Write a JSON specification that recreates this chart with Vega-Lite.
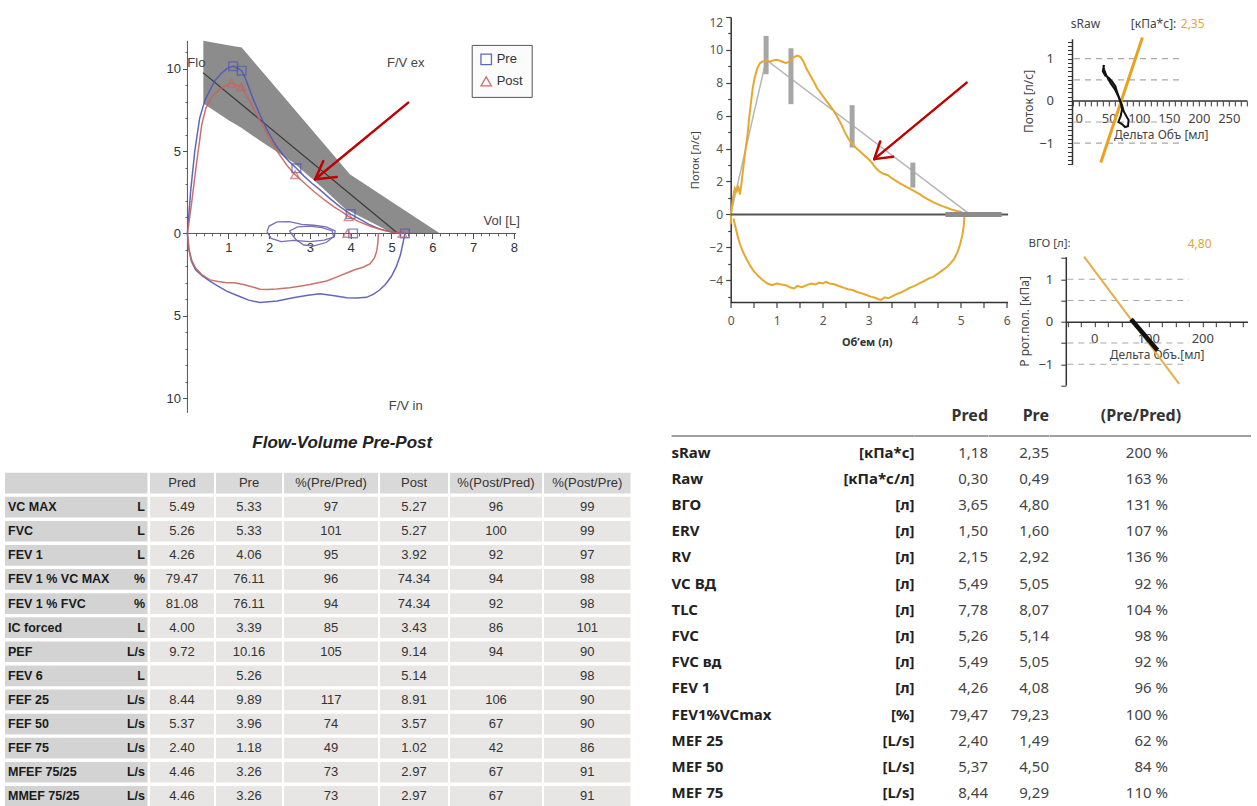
{
  "$schema": "https://vega.github.io/schema/vega-lite/v6.json",
  "background": "white",
  "padding": {"left": 5, "top": 16, "right": 0, "bottom": 0},
  "config": {"view": {"stroke": null}, "axis": {"grid": false}},
  "datasets": {
    "band": [
      {"v": 0.39, "hi": 11.7, "lo": 7.9}, {"v": 1.0, "hi": 11.44, "lo": 6.9}, {"v": 1.33, "hi": 11.3, "lo": 6.4},
      {"v": 1.8, "hi": 9.93, "lo": 5.6}, {"v": 2.6, "hi": 7.61, "lo": 4.3}, {"v": 3.3, "hi": 5.57, "lo": 2.8},
      {"v": 3.86, "hi": 3.95, "lo": 1.5}, {"v": 3.98, "hi": 3.6, "lo": 1.35}, {"v": 5.04, "hi": 1.87, "lo": 0},
      {"v": 6.19, "hi": 0, "lo": 0}
    ],
    "lPred": [{"v": 0.38, "f": 9.77}, {"v": 5.16, "f": 0}],
    "flowCurves": [
      {"series": "Pre", "path": "pe", "v": 0, "f": 0}, {"series": "Pre", "path": "pe", "v": 0.08, "f": 2.6},
      {"series": "Pre", "path": "pe", "v": 0.18, "f": 5.0}, {"series": "Pre", "path": "pe", "v": 0.3, "f": 7.0},
      {"series": "Pre", "path": "pe", "v": 0.43, "f": 8.1}, {"series": "Pre", "path": "pe", "v": 0.55, "f": 8.7},
      {"series": "Pre", "path": "pe", "v": 0.68, "f": 9.3}, {"series": "Pre", "path": "pe", "v": 0.82, "f": 9.7},
      {"series": "Pre", "path": "pe", "v": 0.96, "f": 10.0}, {"series": "Pre", "path": "pe", "v": 1.06, "f": 10.12},
      {"series": "Pre", "path": "pe", "v": 1.12, "f": 10.16}, {"series": "Pre", "path": "pe", "v": 1.2, "f": 10.08},
      {"series": "Pre", "path": "pe", "v": 1.27, "f": 9.98}, {"series": "Pre", "path": "pe", "v": 1.33, "f": 9.89},
      {"series": "Pre", "path": "pe", "v": 1.4, "f": 9.55}, {"series": "Pre", "path": "pe", "v": 1.5, "f": 8.9},
      {"series": "Pre", "path": "pe", "v": 1.62, "f": 8.1}, {"series": "Pre", "path": "pe", "v": 1.78, "f": 7.2},
      {"series": "Pre", "path": "pe", "v": 1.95, "f": 6.3}, {"series": "Pre", "path": "pe", "v": 2.15, "f": 5.4},
      {"series": "Pre", "path": "pe", "v": 2.35, "f": 4.75}, {"series": "Pre", "path": "pe", "v": 2.5, "f": 4.35},
      {"series": "Pre", "path": "pe", "v": 2.67, "f": 3.96}, {"series": "Pre", "path": "pe", "v": 2.85, "f": 3.5},
      {"series": "Pre", "path": "pe", "v": 3.05, "f": 3.05}, {"series": "Pre", "path": "pe", "v": 3.25, "f": 2.65},
      {"series": "Pre", "path": "pe", "v": 3.5, "f": 2.1}, {"series": "Pre", "path": "pe", "v": 3.75, "f": 1.6},
      {"series": "Pre", "path": "pe", "v": 4.0, "f": 1.18}, {"series": "Pre", "path": "pe", "v": 4.2, "f": 0.9},
      {"series": "Pre", "path": "pe", "v": 4.45, "f": 0.55}, {"series": "Pre", "path": "pe", "v": 4.7, "f": 0.28},
      {"series": "Pre", "path": "pe", "v": 4.95, "f": 0.12}, {"series": "Pre", "path": "pe", "v": 5.15, "f": 0.04},
      {"series": "Pre", "path": "pe", "v": 5.33, "f": 0},
      {"series": "Pre", "path": "pi", "v": 5.33, "f": 0}, {"series": "Pre", "path": "pi", "v": 5.28, "f": -0.6},
      {"series": "Pre", "path": "pi", "v": 5.22, "f": -1.3}, {"series": "Pre", "path": "pi", "v": 5.12, "f": -2.0},
      {"series": "Pre", "path": "pi", "v": 5.0, "f": -2.6}, {"series": "Pre", "path": "pi", "v": 4.85, "f": -3.1},
      {"series": "Pre", "path": "pi", "v": 4.7, "f": -3.45}, {"series": "Pre", "path": "pi", "v": 4.55, "f": -3.7},
      {"series": "Pre", "path": "pi", "v": 4.39, "f": -3.88}, {"series": "Pre", "path": "pi", "v": 4.15, "f": -3.92},
      {"series": "Pre", "path": "pi", "v": 3.9, "f": -3.9}, {"series": "Pre", "path": "pi", "v": 3.6, "f": -3.78},
      {"series": "Pre", "path": "pi", "v": 3.25, "f": -3.66}, {"series": "Pre", "path": "pi", "v": 2.95, "f": -3.75},
      {"series": "Pre", "path": "pi", "v": 2.59, "f": -3.9}, {"series": "Pre", "path": "pi", "v": 2.2, "f": -4.1},
      {"series": "Pre", "path": "pi", "v": 1.78, "f": -4.2}, {"series": "Pre", "path": "pi", "v": 1.5, "f": -4.05},
      {"series": "Pre", "path": "pi", "v": 1.25, "f": -3.8}, {"series": "Pre", "path": "pi", "v": 0.96, "f": -3.5},
      {"series": "Pre", "path": "pi", "v": 0.75, "f": -3.2}, {"series": "Pre", "path": "pi", "v": 0.55, "f": -2.9},
      {"series": "Pre", "path": "pi", "v": 0.35, "f": -2.55}, {"series": "Pre", "path": "pi", "v": 0.2, "f": -2.2},
      {"series": "Pre", "path": "pi", "v": 0.1, "f": -1.7}, {"series": "Pre", "path": "pi", "v": 0.04, "f": -1.0},
      {"series": "Pre", "path": "pi", "v": 0, "f": 0},
      {"series": "Post", "path": "qe", "v": 0, "f": 0}, {"series": "Post", "path": "qe", "v": 0.1, "f": 1.8},
      {"series": "Post", "path": "qe", "v": 0.22, "f": 4.2}, {"series": "Post", "path": "qe", "v": 0.35, "f": 6.6},
      {"series": "Post", "path": "qe", "v": 0.45, "f": 7.6}, {"series": "Post", "path": "qe", "v": 0.6, "f": 8.3},
      {"series": "Post", "path": "qe", "v": 0.78, "f": 8.75}, {"series": "Post", "path": "qe", "v": 0.95, "f": 9.0},
      {"series": "Post", "path": "qe", "v": 1.08, "f": 9.14}, {"series": "Post", "path": "qe", "v": 1.2, "f": 9.02},
      {"series": "Post", "path": "qe", "v": 1.32, "f": 8.91}, {"series": "Post", "path": "qe", "v": 1.42, "f": 8.5},
      {"series": "Post", "path": "qe", "v": 1.55, "f": 7.9}, {"series": "Post", "path": "qe", "v": 1.7, "f": 7.2},
      {"series": "Post", "path": "qe", "v": 1.88, "f": 6.4}, {"series": "Post", "path": "qe", "v": 2.05, "f": 5.6},
      {"series": "Post", "path": "qe", "v": 2.25, "f": 4.8}, {"series": "Post", "path": "qe", "v": 2.45, "f": 4.1},
      {"series": "Post", "path": "qe", "v": 2.64, "f": 3.57}, {"series": "Post", "path": "qe", "v": 2.85, "f": 3.1},
      {"series": "Post", "path": "qe", "v": 3.1, "f": 2.55}, {"series": "Post", "path": "qe", "v": 3.35, "f": 2.05},
      {"series": "Post", "path": "qe", "v": 3.6, "f": 1.6}, {"series": "Post", "path": "qe", "v": 3.8, "f": 1.3},
      {"series": "Post", "path": "qe", "v": 3.95, "f": 1.02}, {"series": "Post", "path": "qe", "v": 4.2, "f": 0.72},
      {"series": "Post", "path": "qe", "v": 4.5, "f": 0.42}, {"series": "Post", "path": "qe", "v": 4.8, "f": 0.2},
      {"series": "Post", "path": "qe", "v": 5.05, "f": 0.07}, {"series": "Post", "path": "qe", "v": 5.27, "f": 0},
      {"series": "Post", "path": "qi", "v": 4.68, "f": 0}, {"series": "Post", "path": "qi", "v": 4.67, "f": -0.5},
      {"series": "Post", "path": "qi", "v": 4.64, "f": -1.06}, {"series": "Post", "path": "qi", "v": 4.58, "f": -1.5},
      {"series": "Post", "path": "qi", "v": 4.47, "f": -1.85}, {"series": "Post", "path": "qi", "v": 4.3, "f": -2.05},
      {"series": "Post", "path": "qi", "v": 4.1, "f": -2.2}, {"series": "Post", "path": "qi", "v": 3.9, "f": -2.4},
      {"series": "Post", "path": "qi", "v": 3.65, "f": -2.65}, {"series": "Post", "path": "qi", "v": 3.41, "f": -2.89},
      {"series": "Post", "path": "qi", "v": 3.2, "f": -3.0}, {"series": "Post", "path": "qi", "v": 3.0, "f": -3.1},
      {"series": "Post", "path": "qi", "v": 2.75, "f": -3.2}, {"series": "Post", "path": "qi", "v": 2.5, "f": -3.3},
      {"series": "Post", "path": "qi", "v": 2.19, "f": -3.38}, {"series": "Post", "path": "qi", "v": 1.95, "f": -3.4},
      {"series": "Post", "path": "qi", "v": 1.78, "f": -3.39}, {"series": "Post", "path": "qi", "v": 1.6, "f": -3.25},
      {"series": "Post", "path": "qi", "v": 1.37, "f": -3.1}, {"series": "Post", "path": "qi", "v": 1.15, "f": -3.0},
      {"series": "Post", "path": "qi", "v": 0.96, "f": -2.99}, {"series": "Post", "path": "qi", "v": 0.75, "f": -2.92},
      {"series": "Post", "path": "qi", "v": 0.55, "f": -2.82}, {"series": "Post", "path": "qi", "v": 0.35, "f": -2.5},
      {"series": "Post", "path": "qi", "v": 0.2, "f": -2.1}, {"series": "Post", "path": "qi", "v": 0.1, "f": -1.6},
      {"series": "Post", "path": "qi", "v": 0.03, "f": -0.9}, {"series": "Post", "path": "qi", "v": 0, "f": 0}
    ],
    "tidal": [
      {"loop": "a", "v": 1.95, "f": 0.1}, {"loop": "a", "v": 2.0, "f": 0.45}, {"loop": "a", "v": 2.2, "f": 0.7},
      {"loop": "a", "v": 2.5, "f": 0.72}, {"loop": "a", "v": 2.8, "f": 0.55}, {"loop": "a", "v": 3.1, "f": 0.5},
      {"loop": "a", "v": 3.4, "f": 0.4}, {"loop": "a", "v": 3.62, "f": 0.15}, {"loop": "a", "v": 3.6, "f": -0.2},
      {"loop": "a", "v": 3.35, "f": -0.4}, {"loop": "a", "v": 3.0, "f": -0.5}, {"loop": "a", "v": 2.6, "f": -0.42},
      {"loop": "a", "v": 2.3, "f": -0.5}, {"loop": "a", "v": 2.05, "f": -0.3}, {"loop": "a", "v": 1.95, "f": 0.1},
      {"loop": "b", "v": 2.5, "f": 0.15}, {"loop": "b", "v": 2.7, "f": 0.4}, {"loop": "b", "v": 3.0, "f": 0.45},
      {"loop": "b", "v": 3.3, "f": 0.35}, {"loop": "b", "v": 3.55, "f": 0.15}, {"loop": "b", "v": 3.58, "f": -0.2},
      {"loop": "b", "v": 3.4, "f": -0.55}, {"loop": "b", "v": 3.1, "f": -0.75}, {"loop": "b", "v": 2.85, "f": -0.7},
      {"loop": "b", "v": 2.65, "f": -0.35}, {"loop": "b", "v": 2.5, "f": 0.15}
    ],
    "markers": [
      {"series": "Pre", "v": 1.12, "f": 10.16}, {"series": "Pre", "v": 1.33, "f": 9.89}, {"series": "Pre", "v": 2.67, "f": 3.96},
      {"series": "Pre", "v": 4.0, "f": 1.18}, {"series": "Pre", "v": 5.33, "f": 0}, {"series": "Pre", "v": 4.06, "f": 0},
      {"series": "Post", "v": 1.08, "f": 9.14}, {"series": "Post", "v": 1.32, "f": 8.91}, {"series": "Post", "v": 2.64, "f": 3.57},
      {"series": "Post", "v": 3.95, "f": 1.02}, {"series": "Post", "v": 5.27, "f": 0}, {"series": "Post", "v": 3.92, "f": 0}
    ],
    "lText": [
      {"t": "Flo", "v": 0.22, "f": 10.38}, {"t": "F/V ex", "v": 5.35, "f": 10.38},
      {"t": "Vol [L]", "v": 7.7, "f": 0.77}, {"t": "F/V in", "v": 5.35, "f": -10.47}
    ],
    "lArrow": [
      {"x": 5.41, "y": 7.95, "x2": 3.13, "y2": 3.29}, {"x": 3.66, "y": 3.43, "x2": 3.13, "y2": 3.29},
      {"x": 3.33, "y": 4.4, "x2": 3.13, "y2": 3.29}
    ],
    "rPred": [{"v": 0, "f": 0}, {"v": 0.77, "f": 9.4}, {"v": 5.2, "f": 0}],
    "rBars": [
      {"v": 0.77, "lo": 8.52, "hi": 10.85}, {"v": 1.31, "lo": 6.7, "hi": 10.1},
      {"v": 2.64, "lo": 4.06, "hi": 6.64}, {"v": 3.96, "lo": 1.63, "hi": 3.15}
    ],
    "rFlat": [{"v": 4.67, "v2": 5.89, "f": 0}],
    "rArrow": [
      {"x": 5.13, "y": 8.01, "x2": 3.12, "y2": 3.36}, {"x": 3.53, "y": 3.51, "x2": 3.12, "y2": 3.36},
      {"x": 3.25, "y": 4.43, "x2": 3.12, "y2": 3.36}
    ],
    "rCurve": [
      {"v": 0, "f": -0.6}, {"v": 0.02, "f": 0.3}, {"v": 0.05, "f": 1.0}, {"v": 0.09, "f": 1.6}, {"v": 0.13, "f": 1.4},
      {"v": 0.16, "f": 1.75}, {"v": 0.2, "f": 1.2}, {"v": 0.24, "f": 2.0}, {"v": 0.28, "f": 3.0}, {"v": 0.32, "f": 3.9},
      {"v": 0.36, "f": 4.7}, {"v": 0.4, "f": 5.8}, {"v": 0.44, "f": 6.8}, {"v": 0.48, "f": 7.7}, {"v": 0.53, "f": 8.4},
      {"v": 0.58, "f": 8.9}, {"v": 0.64, "f": 9.2}, {"v": 0.7, "f": 9.3}, {"v": 0.78, "f": 9.35}, {"v": 0.85, "f": 9.28},
      {"v": 0.92, "f": 9.36}, {"v": 1.0, "f": 9.4}, {"v": 1.06, "f": 9.36}, {"v": 1.12, "f": 9.28}, {"v": 1.2, "f": 9.2},
      {"v": 1.27, "f": 9.26}, {"v": 1.33, "f": 9.45}, {"v": 1.4, "f": 9.6}, {"v": 1.46, "f": 9.66}, {"v": 1.52, "f": 9.55},
      {"v": 1.58, "f": 9.3}, {"v": 1.64, "f": 8.9}, {"v": 1.7, "f": 8.6}, {"v": 1.76, "f": 8.3}, {"v": 1.82, "f": 8.0},
      {"v": 1.88, "f": 7.65}, {"v": 1.94, "f": 7.45}, {"v": 2.0, "f": 7.2}, {"v": 2.08, "f": 6.9}, {"v": 2.16, "f": 6.6},
      {"v": 2.24, "f": 6.3}, {"v": 2.32, "f": 5.9}, {"v": 2.4, "f": 5.5}, {"v": 2.48, "f": 5.0}, {"v": 2.56, "f": 4.6},
      {"v": 2.64, "f": 4.3}, {"v": 2.72, "f": 4.05}, {"v": 2.8, "f": 3.85}, {"v": 2.9, "f": 3.6}, {"v": 3.0, "f": 3.35},
      {"v": 3.08, "f": 3.1}, {"v": 3.16, "f": 2.8}, {"v": 3.24, "f": 2.6}, {"v": 3.32, "f": 2.47}, {"v": 3.42, "f": 2.38},
      {"v": 3.5, "f": 2.2}, {"v": 3.6, "f": 2.02}, {"v": 3.7, "f": 1.86}, {"v": 3.8, "f": 1.7}, {"v": 3.9, "f": 1.55},
      {"v": 4.0, "f": 1.4}, {"v": 4.1, "f": 1.25}, {"v": 4.2, "f": 1.05}, {"v": 4.3, "f": 0.9}, {"v": 4.4, "f": 0.75},
      {"v": 4.5, "f": 0.62}, {"v": 4.6, "f": 0.5}, {"v": 4.7, "f": 0.4}, {"v": 4.8, "f": 0.3}, {"v": 4.9, "f": 0.22},
      {"v": 5.0, "f": 0.15}, {"v": 5.06, "f": 0.06}, {"v": 5.08, "f": 0},
      {"v": 5.07, "f": -0.6}, {"v": 5.04, "f": -1.2}, {"v": 4.99, "f": -1.8}, {"v": 4.93, "f": -2.3}, {"v": 4.86, "f": -2.7},
      {"v": 4.77, "f": -3.0}, {"v": 4.68, "f": -3.25}, {"v": 4.58, "f": -3.45}, {"v": 4.48, "f": -3.65}, {"v": 4.4, "f": -3.8},
      {"v": 4.3, "f": -3.9}, {"v": 4.2, "f": -4.05}, {"v": 4.1, "f": -4.2}, {"v": 4.0, "f": -4.35}, {"v": 3.9, "f": -4.45},
      {"v": 3.8, "f": -4.6}, {"v": 3.7, "f": -4.75}, {"v": 3.6, "f": -4.85}, {"v": 3.5, "f": -5.0}, {"v": 3.42, "f": -5.1},
      {"v": 3.35, "f": -5.04}, {"v": 3.27, "f": -5.2}, {"v": 3.2, "f": -5.14}, {"v": 3.12, "f": -5.05}, {"v": 3.04, "f": -5.0},
      {"v": 2.95, "f": -4.9}, {"v": 2.85, "f": -4.8}, {"v": 2.75, "f": -4.72}, {"v": 2.65, "f": -4.6}, {"v": 2.55, "f": -4.55},
      {"v": 2.45, "f": -4.45}, {"v": 2.35, "f": -4.35}, {"v": 2.25, "f": -4.25}, {"v": 2.15, "f": -4.2}, {"v": 2.07, "f": -4.1},
      {"v": 2.0, "f": -4.2}, {"v": 1.92, "f": -4.15}, {"v": 1.85, "f": -4.26}, {"v": 1.75, "f": -4.2}, {"v": 1.65, "f": -4.3},
      {"v": 1.55, "f": -4.42}, {"v": 1.45, "f": -4.35}, {"v": 1.38, "f": -4.5}, {"v": 1.3, "f": -4.45}, {"v": 1.2, "f": -4.3},
      {"v": 1.1, "f": -4.26}, {"v": 1.0, "f": -4.2}, {"v": 0.9, "f": -4.3}, {"v": 0.8, "f": -4.2}, {"v": 0.7, "f": -4.0},
      {"v": 0.6, "f": -3.75}, {"v": 0.5, "f": -3.45}, {"v": 0.42, "f": -3.1}, {"v": 0.34, "f": -2.7}, {"v": 0.27, "f": -2.3},
      {"v": 0.2, "f": -1.8}, {"v": 0.14, "f": -1.2}, {"v": 0.09, "f": -0.6}, {"v": 0.06, "f": -0.25}
    ],
    "dash": [{"g": 1}, {"g": 0.5}, {"g": -0.5}, {"g": -1}],
    "sFit": [{"dv": 36.7, "p": -1.46}, {"dv": 106, "p": 1.5}],
    "sLoop": [
      {"dv": 42, "p": 0.85}, {"dv": 40, "p": 0.7}, {"dv": 44, "p": 0.6}, {"dv": 50, "p": 0.55}, {"dv": 56, "p": 0.45},
      {"dv": 61, "p": 0.35}, {"dv": 64, "p": 0.2}, {"dv": 68, "p": 0.05}, {"dv": 72, "p": -0.1}, {"dv": 75, "p": -0.25},
      {"dv": 80, "p": -0.38}, {"dv": 83, "p": -0.45}, {"dv": 82, "p": -0.6}, {"dv": 77, "p": -0.62}, {"dv": 72, "p": -0.55},
      {"dv": 66, "p": -0.5}, {"dv": 70, "p": -0.35}, {"dv": 72, "p": -0.2}, {"dv": 70, "p": -0.05}, {"dv": 66, "p": 0.1},
      {"dv": 60, "p": 0.28}, {"dv": 53, "p": 0.42}, {"dv": 46, "p": 0.6}, {"dv": 42, "p": 0.75}, {"dv": 41, "p": 0.85}
    ],
    "sTitle": [{"t": "sRaw", "dv": -13.3, "p": 1.83}, {"t": "[кПа*с]:", "dv": 86.7, "p": 1.83}],
    "sTitleVal": [{"t": "2,35", "dv": 170, "p": 1.83}],
    "vFit": [{"dv": -19, "p": 1.53}, {"dv": 157, "p": -1.46}],
    "vSeg": [{"dv": 68, "p": 0.06}, {"dv": 117, "p": -0.67}],
    "vTitle": [{"t": "ВГО", "dv": -122, "p": 1.84}, {"t": "[л]:", "dv": -76, "p": 1.84}],
    "vTitleVal": [{"t": "4,80", "dv": 173, "p": 1.84}],
    "leftTbl": [
      {"name": "", "unit": "", "pred": "Pred", "pre": "Pre", "pp": "%(Pre/Pred)", "post": "Post", "qp": "%(Post/Pred)", "qq": "%(Post/Pre)"},
      {"name": "VC MAX", "unit": "L", "pred": "5.49", "pre": "5.33", "pp": "97", "post": "5.27", "qp": "96", "qq": "99"},
      {"name": "FVC", "unit": "L", "pred": "5.26", "pre": "5.33", "pp": "101", "post": "5.27", "qp": "100", "qq": "99"},
      {"name": "FEV 1", "unit": "L", "pred": "4.26", "pre": "4.06", "pp": "95", "post": "3.92", "qp": "92", "qq": "97"},
      {"name": "FEV 1 % VC MAX", "unit": "%", "pred": "79.47", "pre": "76.11", "pp": "96", "post": "74.34", "qp": "94", "qq": "98"},
      {"name": "FEV 1 % FVC", "unit": "%", "pred": "81.08", "pre": "76.11", "pp": "94", "post": "74.34", "qp": "92", "qq": "98"},
      {"name": "IC forced", "unit": "L", "pred": "4.00", "pre": "3.39", "pp": "85", "post": "3.43", "qp": "86", "qq": "101"},
      {"name": "PEF", "unit": "L/s", "pred": "9.72", "pre": "10.16", "pp": "105", "post": "9.14", "qp": "94", "qq": "90"},
      {"name": "FEV 6", "unit": "L", "pred": "", "pre": "5.26", "pp": "", "post": "5.14", "qp": "", "qq": "98"},
      {"name": "FEF 25", "unit": "L/s", "pred": "8.44", "pre": "9.89", "pp": "117", "post": "8.91", "qp": "106", "qq": "90"},
      {"name": "FEF 50", "unit": "L/s", "pred": "5.37", "pre": "3.96", "pp": "74", "post": "3.57", "qp": "67", "qq": "90"},
      {"name": "FEF 75", "unit": "L/s", "pred": "2.40", "pre": "1.18", "pp": "49", "post": "1.02", "qp": "42", "qq": "86"},
      {"name": "MFEF 75/25", "unit": "L/s", "pred": "4.46", "pre": "3.26", "pp": "73", "post": "2.97", "qp": "67", "qq": "91"},
      {"name": "MMEF 75/25", "unit": "L/s", "pred": "4.46", "pre": "3.26", "pp": "73", "post": "2.97", "qp": "67", "qq": "91"}
    ],
    "rightTbl": [
      {"name": "", "unit": "", "pred": "Pred", "pre": "Pre", "pct": "(Pre/Pred)"},
      {"name": "sRaw", "unit": "[кПа*с]", "pred": "1,18", "pre": "2,35", "pct": "200 %"},
      {"name": "Raw", "unit": "[кПа*с/л]", "pred": "0,30", "pre": "0,49", "pct": "163 %"},
      {"name": "ВГО", "unit": "[л]", "pred": "3,65", "pre": "4,80", "pct": "131 %"},
      {"name": "ERV", "unit": "[л]", "pred": "1,50", "pre": "1,60", "pct": "107 %"},
      {"name": "RV", "unit": "[л]", "pred": "2,15", "pre": "2,92", "pct": "136 %"},
      {"name": "VC ВД", "unit": "[л]", "pred": "5,49", "pre": "5,05", "pct": "92 %"},
      {"name": "TLC", "unit": "[л]", "pred": "7,78", "pre": "8,07", "pct": "104 %"},
      {"name": "FVC", "unit": "[л]", "pred": "5,26", "pre": "5,14", "pct": "98 %"},
      {"name": "FVC вд", "unit": "[л]", "pred": "5,49", "pre": "5,05", "pct": "92 %"},
      {"name": "FEV 1", "unit": "[л]", "pred": "4,26", "pre": "4,08", "pct": "96 %"},
      {"name": "FEV1%VCmax", "unit": "[%]", "pred": "79,47", "pre": "79,23", "pct": "100 %"},
      {"name": "MEF 25", "unit": "[L/s]", "pred": "2,40", "pre": "1,49", "pct": "62 %"},
      {"name": "MEF 50", "unit": "[L/s]", "pred": "5,37", "pre": "4,50", "pct": "84 %"},
      {"name": "MEF 75", "unit": "[L/s]", "pred": "8,44", "pre": "9,29", "pct": "110 %"}
    ]
  },
  "hconcat": [
    {
      "vconcat": [
        {
          "width": 513, "height": 395.9,
          "resolve": {"axis": {"x": "independent", "y": "independent"}},
          "layer": [
            {"data": {"name": "band"}, "mark": {"type": "area", "color": "#8c8c8c", "opacity": 1},
             "encoding": {
               "x": {"field": "v", "type": "quantitative", "scale": {"domain": [-4.47, 8.1], "nice": false, "zero": false},
                 "axis": {"orient": "bottom", "offset": -179.4, "domain": false, "title": null, "grid": false,
                   "values": [1, 2, 3, 4, 5, 6, 7, 8], "tickSize": 5, "tickColor": "#555",
                   "labelFont": "Liberation Sans, Arial, sans-serif", "format": "d",
                   "labelFontSize": 13, "labelColor": "#333", "labelPadding": 3, "labelFlush": false, "labelOverlap": false}},
               "y": {"field": "hi", "type": "quantitative", "scale": {"domain": [-10.9, 13.15], "nice": false, "zero": false},
                 "axis": {"orient": "left", "offset": -182.5, "domain": false, "title": null, "grid": false,
                   "values": [-10, -5, 0, 5, 10], "tickSize": 5, "tickColor": "#555",
                   "labelExpr": "'' + abs(datum.value)",
                   "labelFont": "Liberation Sans, Arial, sans-serif",
                   "labelFontSize": 13, "labelColor": "#333", "labelPadding": 2, "labelFlush": false, "labelOverlap": false}},
               "y2": {"field": "lo"}
             }},
            {"data": {"name": "lPred"}, "mark": {"type": "line", "color": "#3a3a3a", "strokeWidth": 1.2},
             "encoding": {"x": {"field": "v", "type": "quantitative", "axis": null}, "y": {"field": "f", "type": "quantitative", "axis": null}}},
            {"data": {"values": [{}]}, "mark": {"type": "rule", "color": "#555", "strokeWidth": 1},
             "encoding": {
               "x": {"datum": 0, "axis": {"orient": "bottom", "offset": -179.4, "domain": false, "title": null, "grid": false, "labels": false,
                 "values": [0.2,0.4,0.6,0.8,1.2,1.4,1.6,1.8,2.2,2.4,2.6,2.8,3.2,3.4,3.6,3.8,4.2,4.4,4.6,4.8,5.2,5.4,5.6,5.8,6.2,6.4,6.6,6.8,7.2,7.4,7.6,7.8],
                 "tickSize": 2.5, "tickColor": "#666"}},
               "x2": {"datum": 8.05}, "y": {"datum": 0, "axis": null}}},
            {"data": {"values": [{}]}, "mark": {"type": "rule", "color": "#555", "strokeWidth": 1},
             "encoding": {
               "x": {"datum": 0, "axis": null},
               "y": {"datum": -10.9, "axis": {"orient": "left", "offset": -182.5, "domain": false, "title": null, "grid": false, "labels": false,
                 "values": [-9,-8,-7,-6,-4,-3,-2,-1,1,2,3,4,6,7,8,9,11], "tickSize": 2.5, "tickColor": "#666"}},
               "y2": {"datum": 11.7}}},
            {"data": {"name": "tidal"}, "mark": {"type": "line", "color": "#6a5fae", "strokeWidth": 1.3, "opacity": 0.9},
             "encoding": {"x": {"field": "v", "type": "quantitative", "axis": null}, "y": {"field": "f", "type": "quantitative", "axis": null},
               "detail": {"field": "loop"}, "order": {"value": null}}},
            {"data": {"name": "flowCurves"}, "mark": {"type": "line", "strokeWidth": 1.5, "opacity": 0.9},
             "encoding": {"x": {"field": "v", "type": "quantitative", "axis": null}, "y": {"field": "f", "type": "quantitative", "axis": null},
               "color": {"field": "series", "type": "nominal", "scale": {"domain": ["Pre", "Post"], "range": ["#5157b4", "#c4645c"]},
                 "legend": {"orient": "none", "legendX": 466.7, "legendY": 27.9, "title": null, "padding": 8,
                   "strokeColor": "#555", "fillColor": "#fbfbfb", "labelFont": "Liberation Sans, Arial, sans-serif",
                   "labelFontSize": 13, "labelColor": "#333", "symbolSize": 110, "symbolStrokeWidth": 1.3, "rowPadding": 6, "labelOffset": 4}},
               "detail": {"field": "path"}, "order": {"value": null}}},
            {"data": {"name": "markers"}, "mark": {"type": "point", "filled": false, "size": 75, "strokeWidth": 1.4},
             "encoding": {"x": {"field": "v", "type": "quantitative", "axis": null}, "y": {"field": "f", "type": "quantitative", "axis": null},
               "color": {"field": "series", "type": "nominal", "legend": null},
               "shape": {"field": "series", "type": "nominal", "scale": {"domain": ["Pre", "Post"], "range": ["square", "triangle-up"]}, "legend": null}}},
            {"data": {"name": "lText"}, "mark": {"type": "text", "font": "Liberation Sans, Arial, sans-serif", "fontSize": 13, "color": "#444"},
             "encoding": {"x": {"field": "v", "type": "quantitative", "axis": null}, "y": {"field": "f", "type": "quantitative", "axis": null}, "text": {"field": "t"}}},
            {"data": {"name": "lArrow"}, "mark": {"type": "rule", "color": "#c00000", "strokeWidth": 2.5, "strokeCap": "round"},
             "encoding": {"x": {"field": "x", "type": "quantitative", "axis": null}, "y": {"field": "y", "type": "quantitative", "axis": null}, "x2": {"field": "x2"}, "y2": {"field": "y2"}}}
          ]
        },
        {
          "title": {"text": "Flow-Volume Pre-Post", "font": "Liberation Sans, Arial, sans-serif",
            "fontSize": 17, "fontWeight": "bold", "fontStyle": "italic", "color": "#222", "anchor": "middle", "dx": 24.5, "offset": 3.5, "baseline": "bottom"},
          "hconcat": [
            {"width": 142.5, "height": 334, "data": {"name": "leftTbl"},
             "encoding": {"y": {"field": "name", "type": "nominal", "sort": null, "axis": null, "scale": {"paddingInner": 0.14, "paddingOuter": 0}}},
             "layer": [
               {"mark": {"type": "rect", "fill": "#d3d3d3"}, "encoding": {"x": {"datum": 0, "type": "quantitative", "scale": {"domain": [0, 1]}, "axis": null}, "x2": {"datum": 1}}},
               {"mark": {"type": "text", "align": "left", "dx": 3, "font": "Liberation Sans, Arial, sans-serif", "fontSize": 12.5, "fontWeight": "bold", "color": "#1a1a1a"},
                "encoding": {"x": {"datum": 0, "type": "quantitative", "axis": null}, "text": {"field": "name"}}},
               {"mark": {"type": "text", "align": "right", "dx": -2.5, "font": "Liberation Sans, Arial, sans-serif", "fontSize": 12.5, "fontWeight": "bold", "color": "#1a1a1a"},
                "encoding": {"x": {"datum": 1, "type": "quantitative", "axis": null}, "text": {"field": "unit"}}}
             ]},
            {"width": 64, "height": 334, "data": {"name": "leftTbl"},
             "encoding": {"y": {"field": "name", "type": "nominal", "sort": null, "axis": null, "scale": {"paddingInner": 0.14, "paddingOuter": 0}}},
             "layer": [
               {"mark": {"type": "rect"}, "encoding": {"x": {"datum": 0, "type": "quantitative", "scale": {"domain": [0, 1]}, "axis": null}, "x2": {"datum": 1},
                 "fill": {"condition": {"test": "datum.name === ''", "value": "#d9d9d9"}, "value": "#e8e6e4"}}},
               {"mark": {"type": "text", "font": "Liberation Sans, Arial, sans-serif", "fontSize": 13, "color": "#333"},
                "encoding": {"x": {"datum": 0.5, "type": "quantitative", "axis": null}, "text": {"field": "pred"}}}
             ]},
            {"width": 66, "height": 334, "data": {"name": "leftTbl"},
             "encoding": {"y": {"field": "name", "type": "nominal", "sort": null, "axis": null, "scale": {"paddingInner": 0.14, "paddingOuter": 0}}},
             "layer": [
               {"mark": {"type": "rect"}, "encoding": {"x": {"datum": 0, "type": "quantitative", "scale": {"domain": [0, 1]}, "axis": null}, "x2": {"datum": 1},
                 "fill": {"condition": {"test": "datum.name === ''", "value": "#d9d9d9"}, "value": "#e8e6e4"}}},
               {"mark": {"type": "text", "font": "Liberation Sans, Arial, sans-serif", "fontSize": 13, "color": "#333"},
                "encoding": {"x": {"datum": 0.5, "type": "quantitative", "axis": null}, "text": {"field": "pre"}}}
             ]},
            {"width": 94, "height": 334, "data": {"name": "leftTbl"},
             "encoding": {"y": {"field": "name", "type": "nominal", "sort": null, "axis": null, "scale": {"paddingInner": 0.14, "paddingOuter": 0}}},
             "layer": [
               {"mark": {"type": "rect"}, "encoding": {"x": {"datum": 0, "type": "quantitative", "scale": {"domain": [0, 1]}, "axis": null}, "x2": {"datum": 1},
                 "fill": {"condition": {"test": "datum.name === ''", "value": "#d9d9d9"}, "value": "#e8e6e4"}}},
               {"mark": {"type": "text", "font": "Liberation Sans, Arial, sans-serif", "fontSize": 13, "color": "#333"},
                "encoding": {"x": {"datum": 0.5, "type": "quantitative", "axis": null}, "text": {"field": "pp"}}}
             ]},
            {"width": 68, "height": 334, "data": {"name": "leftTbl"},
             "encoding": {"y": {"field": "name", "type": "nominal", "sort": null, "axis": null, "scale": {"paddingInner": 0.14, "paddingOuter": 0}}},
             "layer": [
               {"mark": {"type": "rect"}, "encoding": {"x": {"datum": 0, "type": "quantitative", "scale": {"domain": [0, 1]}, "axis": null}, "x2": {"datum": 1},
                 "fill": {"condition": {"test": "datum.name === ''", "value": "#d9d9d9"}, "value": "#e8e6e4"}}},
               {"mark": {"type": "text", "font": "Liberation Sans, Arial, sans-serif", "fontSize": 13, "color": "#333"},
                "encoding": {"x": {"datum": 0.5, "type": "quantitative", "axis": null}, "text": {"field": "post"}}}
             ]},
            {"width": 92, "height": 334, "data": {"name": "leftTbl"},
             "encoding": {"y": {"field": "name", "type": "nominal", "sort": null, "axis": null, "scale": {"paddingInner": 0.14, "paddingOuter": 0}}},
             "layer": [
               {"mark": {"type": "rect"}, "encoding": {"x": {"datum": 0, "type": "quantitative", "scale": {"domain": [0, 1]}, "axis": null}, "x2": {"datum": 1},
                 "fill": {"condition": {"test": "datum.name === ''", "value": "#d9d9d9"}, "value": "#e8e6e4"}}},
               {"mark": {"type": "text", "font": "Liberation Sans, Arial, sans-serif", "fontSize": 13, "color": "#333"},
                "encoding": {"x": {"datum": 0.5, "type": "quantitative", "axis": null}, "text": {"field": "qp"}}}
             ]},
            {"width": 86.5, "height": 334, "data": {"name": "leftTbl"},
             "encoding": {"y": {"field": "name", "type": "nominal", "sort": null, "axis": null, "scale": {"paddingInner": 0.14, "paddingOuter": 0}}},
             "layer": [
               {"mark": {"type": "rect"}, "encoding": {"x": {"datum": 0, "type": "quantitative", "scale": {"domain": [0, 1]}, "axis": null}, "x2": {"datum": 1},
                 "fill": {"condition": {"test": "datum.name === ''", "value": "#d9d9d9"}, "value": "#e8e6e4"}}},
               {"mark": {"type": "text", "font": "Liberation Sans, Arial, sans-serif", "fontSize": 13, "color": "#333"},
                "encoding": {"x": {"datum": 0.5, "type": "quantitative", "axis": null}, "text": {"field": "qq"}}}
             ]}
          ],
          "spacing": 2, "bounds": "flush"
        }
      ],
      "spacing": 59.7, "bounds": "flush"
    },
    {
      "vconcat": [
        {
          "hconcat": [
            {
              "width": 335.2, "height": 285.4,
              "resolve": {"axis": {"x": "independent", "y": "independent"}},
              "layer": [
                {"data": {"name": "rPred"}, "mark": {"type": "line", "color": "#b5b5b5", "strokeWidth": 1.5},
                 "encoding": {
                   "x": {"field": "v", "type": "quantitative", "scale": {"domain": [-1.287, 6], "nice": false, "zero": false},
                     "axis": {"orient": "bottom", "domain": false, "grid": false, "values": [0,0.5,1,1.5,2,2.5,3,3.5,4,4.5,5,5.5,6],
                       "tickSize": 5, "tickColor": "#444", "tickWidth": 1.2,
                       "labelExpr": "datum.value % 1 === 0 ? '' + datum.value : ''",
                       "labelFont": "Noto Sans, Open Sans, sans-serif", "labelFontSize": 12, "labelColor": "#555", "labelPadding": 8,
                       "labelFlush": false, "labelOverlap": false,
                       "title": "Об’ем (л)", "titleFont": "Noto Sans, Open Sans, sans-serif", "titleFontSize": 11, "titleFontWeight": "bold",
                       "titleColor": "#333", "titleX": 195.2, "titlePadding": 10}},
                   "y": {"field": "f", "type": "quantitative", "scale": {"domain": [-5.35, 12], "nice": false, "zero": false},
                     "axis": {"orient": "left", "offset": -59.2, "domain": true, "domainColor": "#333", "domainWidth": 1.5, "grid": false,
                       "values": [-4,-2,0,2,4,6,8,10,12], "tickSize": 5, "tickColor": "#444", "tickWidth": 1.2,
                       "labelFont": "Noto Sans, Open Sans, sans-serif", "labelFontSize": 12, "labelColor": "#555", "labelPadding": 3,
                       "labelFlush": true, "labelOverlap": false,
                       "title": "Поток [л/с]", "titleFont": "Noto Sans, Open Sans, sans-serif", "titleFontSize": 11, "titleFontWeight": "normal",
                       "titleColor": "#444", "titlePadding": 8}},
                   "order": {"value": null}}},
                {"data": {"name": "rBars"}, "mark": {"type": "rule", "color": "#a6a6a6", "strokeWidth": 5},
                 "encoding": {"x": {"field": "v", "type": "quantitative", "axis": null}, "y": {"field": "lo", "type": "quantitative", "axis": null}, "y2": {"field": "hi"}}},
                {"data": {"name": "rCurve"}, "mark": {"type": "line", "color": "#e6a82e", "strokeWidth": 2},
                 "encoding": {"x": {"field": "v", "type": "quantitative", "axis": null}, "y": {"field": "f", "type": "quantitative", "axis": null}, "order": {"value": null}}},
                {"data": {"values": [{}]}, "mark": {"type": "rule", "color": "#555", "strokeWidth": 2},
                 "encoding": {"x": {"datum": 0, "axis": null}, "x2": {"datum": 6.03}, "y": {"datum": 0, "axis": null}}},
                {"data": {"name": "rFlat"}, "mark": {"type": "rule", "color": "#8c8c8c", "strokeWidth": 5},
                 "encoding": {"x": {"field": "v", "type": "quantitative", "axis": null}, "x2": {"field": "v2"}, "y": {"field": "f", "type": "quantitative", "axis": null}}},
                {"data": {"values": [{}]}, "mark": {"type": "rule", "color": "#333", "strokeWidth": 1.5},
                 "encoding": {"x": {"datum": 0, "axis": null}, "x2": {"datum": 6.03},
                   "y": {"datum": -5.35, "axis": {"orient": "left", "offset": -59.2, "domain": false, "grid": false, "labels": false, "title": null,
                     "values": [-5,-3,-1,1,3,5,7,9,11], "tickSize": 3, "tickColor": "#444", "tickWidth": 1.2}}}},
                {"data": {"name": "rArrow"}, "mark": {"type": "rule", "color": "#c00000", "strokeWidth": 2.5, "strokeCap": "round"},
                 "encoding": {"x": {"field": "x", "type": "quantitative", "axis": null}, "y": {"field": "y", "type": "quantitative", "axis": null}, "x2": {"field": "x2"}, "y2": {"field": "y2"}}}
              ]
            },
            {
              "vconcat": [
                {
                  "width": 181.7, "height": 147.2,
                  "resolve": {"axis": {"x": "independent", "y": "independent"}},
                  "layer": [
                    {"data": {"name": "dash"}, "mark": {"type": "rule", "color": "#a8a8a8", "strokeDash": [6, 5], "strokeWidth": 1.2},
                     "encoding": {
                       "y": {"field": "g", "type": "quantitative", "scale": {"domain": [-1.5, 1.988], "nice": false, "zero": false},
                         "axis": {"orient": "left", "offset": -6.7, "domain": false, "grid": false,
                           "values": [-1, 0, 1], "tickSize": 5, "tickColor": "#333",
                           "labelFont": "Noto Sans, Open Sans, sans-serif", "labelFontSize": 13, "labelColor": "#444", "labelPadding": 14,
                           "labelFlush": false, "labelOverlap": false,
                           "title": "Поток [л/с]", "titleFont": "Noto Sans, Open Sans, sans-serif", "titleFontSize": 12, "titleFontWeight": "normal",
                           "titleColor": "#444", "titleY": 83.9, "titlePadding": 3}},
                       "x": {"datum": -8, "type": "quantitative", "scale": {"domain": [-21.67, 281.2], "nice": false, "zero": false},
                         "axis": {"orient": "bottom", "offset": -63.3, "domain": false, "grid": false,
                           "values": [0, 50, 100, 150, 200, 250], "tickSize": 5, "tickColor": "#333",
                           "labelFont": "Noto Sans, Open Sans, sans-serif", "labelFontSize": 13, "labelColor": "#444", "labelPadding": 7,
                           "labelFlush": false, "labelOverlap": false,
                           "title": "Дельта Объ [мл]", "titleFont": "Noto Sans, Open Sans, sans-serif", "titleFontSize": 12, "titleFontWeight": "normal",
                           "titleColor": "#444", "titleX": 95, "titlePadding": 4}},
                       "x2": {"datum": 175}}},
                    {"data": {"values": [{}]}, "mark": {"type": "rule", "color": "#333", "strokeWidth": 1.5},
                     "encoding": {"x": {"datum": -10.5, "axis": null},
                       "y": {"datum": -1.5, "axis": {"orient": "left", "offset": -6.7, "domain": false, "grid": false, "labels": false, "title": null,
                         "values": [-1.5,-1.4,-1.3,-1.2,-1.1,-0.9,-0.8,-0.7,-0.6,-0.5,-0.4,-0.3,-0.2,-0.1,0.1,0.2,0.3,0.4,0.5,0.6,0.7,0.8,0.9,1.1,1.2,1.3,1.4],
                         "tickSize": 5, "tickColor": "#333"}},
                       "y2": {"datum": 1.46}}},
                    {"data": {"values": [{}]}, "mark": {"type": "rule", "color": "#333", "strokeWidth": 1.5},
                     "encoding": {
                       "x": {"datum": -10.5, "axis": {"orient": "bottom", "offset": -63.3, "domain": false, "grid": false, "labels": false, "title": null,
                         "values": [-10,10,20,30,40,60,70,80,90,110,120,130,140,160,170,180,190,210,220,230,240,260,270,280],
                         "tickSize": 5, "tickColor": "#333"}},
                       "x2": {"datum": 281}, "y": {"datum": 0, "axis": null}}},
                    {"data": {"name": "sFit"}, "mark": {"type": "line", "color": "#e8a21e", "strokeWidth": 3},
                     "encoding": {"x": {"field": "dv", "type": "quantitative", "axis": null}, "y": {"field": "p", "type": "quantitative", "axis": null}}},
                    {"data": {"name": "sLoop"}, "mark": {"type": "line", "color": "#111", "strokeWidth": 2},
                     "encoding": {"x": {"field": "dv", "type": "quantitative", "axis": null}, "y": {"field": "p", "type": "quantitative", "axis": null}, "order": {"value": null}}},
                    {"data": {"name": "sTitle"}, "mark": {"type": "text", "align": "left", "font": "Noto Sans, Open Sans, sans-serif", "fontSize": 12, "color": "#444"},
                     "encoding": {"x": {"field": "dv", "type": "quantitative", "axis": null}, "y": {"field": "p", "type": "quantitative", "axis": null}, "text": {"field": "t"}}},
                    {"data": {"name": "sTitleVal"}, "mark": {"type": "text", "align": "left", "font": "Noto Sans, Open Sans, sans-serif", "fontSize": 12, "color": "#e0a830"},
                     "encoding": {"x": {"field": "dv", "type": "quantitative", "axis": null}, "y": {"field": "p", "type": "quantitative", "axis": null}, "text": {"field": "t"}}}
                  ]
                },
                {
                  "width": 181.7, "height": 128.4,
                  "resolve": {"axis": {"x": "independent", "y": "independent"}},
                  "layer": [
                    {"data": {"name": "dash"}, "mark": {"type": "rule", "color": "#a8a8a8", "strokeDash": [6, 5], "strokeWidth": 1.2},
                     "encoding": {
                       "y": {"field": "g", "type": "quantitative", "scale": {"domain": [-1.49, 1.53], "nice": false, "zero": false},
                         "axis": {"orient": "left", "domain": true, "domainColor": "#333", "domainWidth": 1.5, "grid": false,
                           "values": [-1, 0, 1], "tickSize": 5, "tickColor": "#333",
                           "labelFont": "Noto Sans, Open Sans, sans-serif", "labelFontSize": 13, "labelColor": "#444", "labelPadding": 8,
                           "labelFlush": false, "labelOverlap": false,
                           "title": "P рот.пол. [кПа]", "titleFont": "Noto Sans, Open Sans, sans-serif", "titleFontSize": 12, "titleFontWeight": "normal",
                           "titleColor": "#444", "titlePadding": 6}},
                       "x": {"datum": -50, "type": "quantitative", "scale": {"domain": [-52.8, 283.7], "nice": false, "zero": false},
                         "axis": {"orient": "bottom", "offset": -63.4, "domain": true, "domainColor": "#333", "domainWidth": 1.5, "grid": false,
                           "values": [0, 100, 200], "tickSize": 5, "tickColor": "#333",
                           "labelFont": "Noto Sans, Open Sans, sans-serif", "labelFontSize": 13, "labelColor": "#444", "labelPadding": 6,
                           "labelFlush": false, "labelOverlap": false,
                           "title": "Дельта Объ.[мл]", "titleFont": "Noto Sans, Open Sans, sans-serif", "titleFontSize": 12, "titleFontWeight": "normal",
                           "titleColor": "#444", "titlePadding": 4}},
                       "x2": {"datum": 175}}},
                    {"data": {"name": "vFit"}, "mark": {"type": "line", "color": "#e3b04a", "strokeWidth": 2},
                     "encoding": {
                       "x": {"field": "dv", "type": "quantitative", "axis": {"orient": "bottom", "offset": -63.4, "domain": false, "grid": false, "labels": false, "title": null,
                         "values": [-50,-25,25,50,75,125,150,175,225,250,275], "tickSize": 5, "tickColor": "#333"}},
                       "y": {"field": "p", "type": "quantitative", "axis": {"orient": "left", "domain": false, "grid": false, "labels": false, "title": null,
                         "values": [-1.5,-0.5,0.5,1.5], "tickSize": 5, "tickColor": "#333"}}}},
                    {"data": {"name": "vSeg"}, "mark": {"type": "line", "color": "#111", "strokeWidth": 4.5},
                     "encoding": {"x": {"field": "dv", "type": "quantitative", "axis": null}, "y": {"field": "p", "type": "quantitative", "axis": null}}},
                    {"data": {"name": "vTitle"}, "mark": {"type": "text", "align": "left", "font": "Noto Sans, Open Sans, sans-serif", "fontSize": 11.5, "color": "#444"},
                     "encoding": {"x": {"field": "dv", "type": "quantitative", "axis": null}, "y": {"field": "p", "type": "quantitative", "axis": null}, "text": {"field": "t"}}},
                    {"data": {"name": "vTitleVal"}, "mark": {"type": "text", "align": "left", "font": "Noto Sans, Open Sans, sans-serif", "fontSize": 12, "color": "#e0a830"},
                     "encoding": {"x": {"field": "dv", "type": "quantitative", "axis": null}, "y": {"field": "p", "type": "quantitative", "axis": null}, "text": {"field": "t"}}}
                  ]
                }
              ],
              "spacing": 91.7, "bounds": "flush"
            }
          ],
          "spacing": 58.3, "bounds": "flush"
        },
        {
          "hconcat": [
            {"width": 243, "height": 393, "data": {"name": "rightTbl"},
             "encoding": {"y": {"field": "name", "type": "nominal", "sort": null, "axis": null,
               "scale": {"domain": ["", "sRaw", "Raw", "ВГО", "ERV", "RV", "VC ВД", "TLC", "FVC", "FVC вд", "FEV 1", "FEV1%VCmax", "MEF 25", "MEF 50", "MEF 75"], "paddingInner": 0, "paddingOuter": 0}}},
             "layer": [
               {"transform": [{"filter": "datum.name === ''"}], "mark": {"type": "rule", "color": "#a0a0a0", "strokeWidth": 2},
                "encoding": {"y": {"field": "name", "type": "nominal", "bandPosition": 0.863},
                  "x": {"datum": 0, "type": "quantitative", "scale": {"domain": [0, 1]}, "axis": null}, "x2": {"datum": 1}}},
               {"transform": [{"filter": "datum.name !== ''"}], "mark": {"type": "text", "align": "left", "font": "Noto Sans, Open Sans, sans-serif", "fontSize": 15, "fontWeight": "bold", "color": "#222"},
                "encoding": {"x": {"datum": 0, "type": "quantitative", "axis": null}, "text": {"field": "name"}}},
               {"transform": [{"filter": "datum.name !== ''"}], "mark": {"type": "text", "align": "right", "font": "Noto Sans, Open Sans, sans-serif", "fontSize": 15, "fontWeight": "bold", "color": "#222"},
                "encoding": {"x": {"datum": 1, "type": "quantitative", "axis": null}, "text": {"field": "unit"}}}
             ]},
            {"width": 73.5, "height": 393, "data": {"name": "rightTbl"},
             "encoding": {"y": {"field": "name", "type": "nominal", "sort": null, "axis": null,
               "scale": {"domain": ["", "sRaw", "Raw", "ВГО", "ERV", "RV", "VC ВД", "TLC", "FVC", "FVC вд", "FEV 1", "FEV1%VCmax", "MEF 25", "MEF 50", "MEF 75"], "paddingInner": 0, "paddingOuter": 0}}},
             "layer": [
               {"transform": [{"filter": "datum.name === ''"}], "mark": {"type": "rule", "color": "#a0a0a0", "strokeWidth": 2},
                "encoding": {"y": {"field": "name", "type": "nominal", "bandPosition": 0.863},
                  "x": {"datum": 0, "type": "quantitative", "scale": {"domain": [0, 1]}, "axis": null}, "x2": {"datum": 1}}},
               {"transform": [{"filter": "datum.name !== ''"}], "mark": {"type": "text", "align": "right", "font": "Noto Sans, Open Sans, sans-serif", "fontSize": 15, "color": "#444"},
                "encoding": {"x": {"datum": 1, "type": "quantitative", "axis": null}, "text": {"field": "pred"}}},
               {"transform": [{"filter": "datum.name === ''"}], "mark": {"type": "text", "align": "right", "dy": -10.5, "font": "Noto Sans, Open Sans, sans-serif", "fontSize": 16, "fontWeight": "bold", "color": "#333"},
                "encoding": {"x": {"datum": 1, "type": "quantitative", "axis": null}, "text": {"field": "pred"}}}
             ]},
            {"width": 60.5, "height": 393, "data": {"name": "rightTbl"},
             "encoding": {"y": {"field": "name", "type": "nominal", "sort": null, "axis": null,
               "scale": {"domain": ["", "sRaw", "Raw", "ВГО", "ERV", "RV", "VC ВД", "TLC", "FVC", "FVC вд", "FEV 1", "FEV1%VCmax", "MEF 25", "MEF 50", "MEF 75"], "paddingInner": 0, "paddingOuter": 0}}},
             "layer": [
               {"transform": [{"filter": "datum.name === ''"}], "mark": {"type": "rule", "color": "#a0a0a0", "strokeWidth": 2},
                "encoding": {"y": {"field": "name", "type": "nominal", "bandPosition": 0.863},
                  "x": {"datum": 0, "type": "quantitative", "scale": {"domain": [0, 1]}, "axis": null}, "x2": {"datum": 1}}},
               {"transform": [{"filter": "datum.name !== ''"}], "mark": {"type": "text", "align": "right", "font": "Noto Sans, Open Sans, sans-serif", "fontSize": 15, "color": "#444"},
                "encoding": {"x": {"datum": 1, "type": "quantitative", "axis": null}, "text": {"field": "pre"}}},
               {"transform": [{"filter": "datum.name === ''"}], "mark": {"type": "text", "align": "right", "dy": -10.5, "font": "Noto Sans, Open Sans, sans-serif", "fontSize": 16, "fontWeight": "bold", "color": "#333"},
                "encoding": {"x": {"datum": 1, "type": "quantitative", "axis": null}, "text": {"field": "pre"}}}
             ]},
            {"width": 201.5, "height": 393, "data": {"name": "rightTbl"},
             "encoding": {"y": {"field": "name", "type": "nominal", "sort": null, "axis": null,
               "scale": {"domain": ["", "sRaw", "Raw", "ВГО", "ERV", "RV", "VC ВД", "TLC", "FVC", "FVC вд", "FEV 1", "FEV1%VCmax", "MEF 25", "MEF 50", "MEF 75"], "paddingInner": 0, "paddingOuter": 0}}},
             "layer": [
               {"transform": [{"filter": "datum.name === ''"}], "mark": {"type": "rule", "color": "#a0a0a0", "strokeWidth": 2},
                "encoding": {"y": {"field": "name", "type": "nominal", "bandPosition": 0.863},
                  "x": {"datum": 0, "type": "quantitative", "scale": {"domain": [0, 1]}, "axis": null}, "x2": {"datum": 1}}},
               {"transform": [{"filter": "datum.name !== ''"}], "mark": {"type": "text", "align": "right", "font": "Noto Sans, Open Sans, sans-serif", "fontSize": 15, "color": "#444"},
                "encoding": {"x": {"datum": 0.588, "type": "quantitative", "axis": null}, "text": {"field": "pct"}}},
               {"transform": [{"filter": "datum.name === ''"}], "mark": {"type": "text", "align": "center", "dy": -10.5, "font": "Noto Sans, Open Sans, sans-serif", "fontSize": 16, "fontWeight": "bold", "color": "#333"},
                "encoding": {"x": {"datum": 0.454, "type": "quantitative", "axis": null}, "text": {"field": "pct"}}}
             ]}
          ],
          "spacing": 0, "bounds": "flush"
        }
      ],
      "spacing": 396.3, "bounds": "flush"
    }
  ],
  "spacing": 666.5, "bounds": "flush"
}
